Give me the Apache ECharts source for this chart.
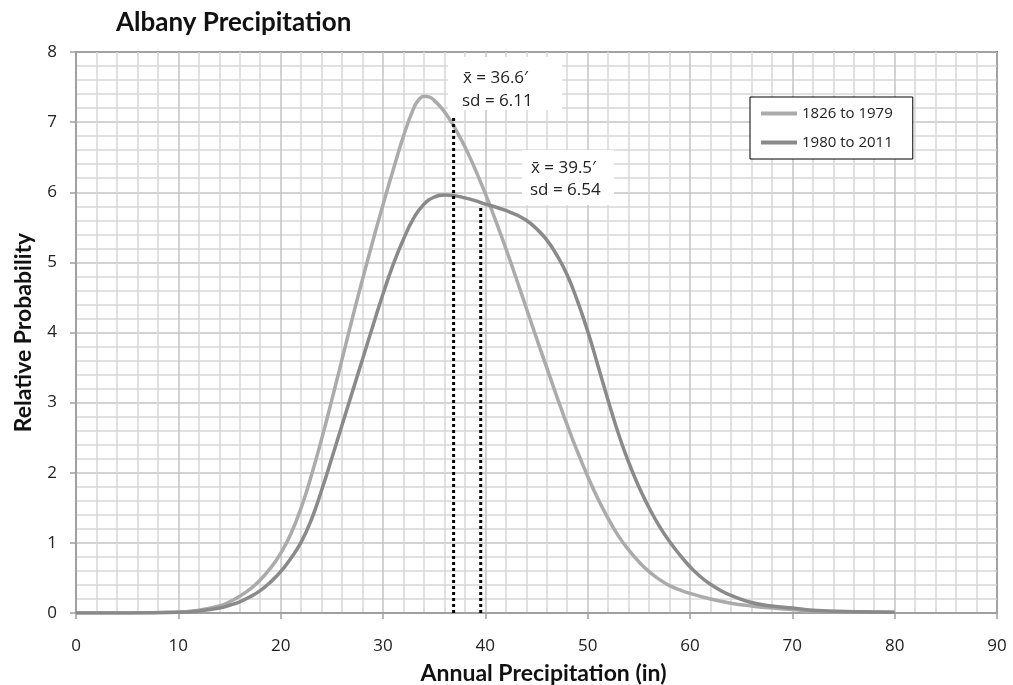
<!DOCTYPE html>
<html>
<head>
<meta charset="utf-8">
<script src="https://cdn.jsdelivr.net/npm/echarts@6/dist/echarts.min.js"></script>
<style>html,body{margin:0;padding:0;background:#fff;}#c{width:1013px;height:685px;}</style>
</head>
<body>
<div id="c"></div>
<script>
// ---- data ----
const seriesNames = ['1826 to 1979', '1980 to 2011'];
const xOld = [0, 5, 10, 12, 14, 15, 16, 17, 18, 19, 20, 21, 22, 23, 24, 25, 26, 27, 28, 29, 30, 31, 32, 33, 33.5, 34, 34.5, 35, 36, 37, 38, 39, 40, 41, 42, 43, 44, 45, 46, 47, 48, 49, 50, 51, 52, 53, 54, 55, 56, 57, 58, 59, 60, 62, 64, 66, 68, 70, 72, 75, 80];
const yOld = [0, 0, 0.01, 0.04, 0.10, 0.16, 0.24, 0.34, 0.47, 0.64, 0.85, 1.13, 1.5, 1.96, 2.48, 3.04, 3.62, 4.2, 4.76, 5.3, 5.82, 6.32, 6.8, 7.2, 7.32, 7.37, 7.36, 7.31, 7.15, 6.92, 6.65, 6.33, 5.98, 5.6, 5.2, 4.78, 4.35, 3.92, 3.5, 3.08, 2.68, 2.3, 1.95, 1.63, 1.35, 1.1, 0.9, 0.73, 0.59, 0.48, 0.39, 0.33, 0.28, 0.2, 0.14, 0.1, 0.07, 0.05, 0.03, 0.02, 0.01];
const xNew = [0, 5, 10, 12, 14, 15, 16, 17, 18, 19, 20, 21, 22, 23, 24, 25, 26, 27, 28, 29, 30, 31, 32, 33, 34, 35, 36, 37, 38, 39, 40, 41, 42, 43, 44, 45, 46, 47, 48, 49, 50, 51, 52, 53, 54, 55, 56, 57, 58, 59, 60, 61, 62, 63, 64, 66, 68, 70, 72, 75, 80];
const yNew = [0, 0, 0.01, 0.03, 0.07, 0.11, 0.16, 0.23, 0.32, 0.44, 0.59, 0.78, 1.01, 1.33, 1.75, 2.21, 2.68, 3.15, 3.62, 4.09, 4.55, 4.97, 5.33, 5.63, 5.83, 5.93, 5.96, 5.95, 5.92, 5.88, 5.83, 5.79, 5.74, 5.68, 5.6, 5.48, 5.32, 5.1, 4.82, 4.45, 4.02, 3.53, 3.03, 2.56, 2.15, 1.8, 1.5, 1.24, 1.02, 0.83, 0.66, 0.52, 0.41, 0.32, 0.25, 0.15, 0.1, 0.07, 0.04, 0.02, 0.01];
const meanX = [36.9, 39.55];
const meanTop = [7.06, 5.8];
const meanLabels = ['x\u0304 = 36.6\u2032', 'x\u0304 = 39.5\u2032'];
const sdLabels = ['sd = 6.11', 'sd = 6.54'];
const xTitle = 'Annual Precipitation (in)';
const yTitle = 'Relative Probability';
const chartTitle = 'Albany Precipitation';

const zip = (xs, ys) => xs.map((x, i) => [x, ys[i]]);
const FONT = '"Open Sans", sans-serif';
const BOLD = 'Lato, sans-serif';

const chart = echarts.init(document.getElementById('c'), null, {renderer: 'canvas'});
const dotted = meanX.map((x, i) => ({
  type: 'line', silent: true, showSymbol: false, z: 5,
  data: [[x, 0], [x, meanTop[i]]],
  lineStyle: {color: '#000', width: 3, type: [3, 3]}
}));

chart.setOption({
  animation: false,
  backgroundColor: '#fff',
  title: {text: chartTitle, left: 111, top: 5,
    textStyle: {fontFamily: BOLD, fontWeight: 'bold', fontSize: 26, color: '#111'}},
  grid: {left: 76, right: 16, top: 52, bottom: 72, show: true, containLabel: false,
    outerBoundsMode: 'none',
    borderColor: '#000', borderWidth: 1.5, backgroundColor: 'transparent'},
  legend: {data: seriesNames, orient: 'vertical', left: 750, top: 97,
    padding: [9, 20, 9, 11], itemGap: 14, itemWidth: 36, itemHeight: 4, icon: 'rect',
    backgroundColor: '#fff', borderColor: '#000', borderWidth: 1, borderRadius: 0,
    textStyle: {fontFamily: FONT, fontSize: 15, color: '#222'}},
  xAxis: {type: 'value', min: 0, max: 90, interval: 10,
    name: xTitle, nameLocation: 'middle', nameGap: 49,
    nameTextStyle: {fontFamily: BOLD, fontWeight: 'bold', fontSize: 23, color: '#111', padding: [0, 0, 0, 14]},
    axisLine: {show: true, onZero: false, lineStyle: {color: '#a0a0a0', width: 2}},
    axisTick: {show: true, length: 6, lineStyle: {color: '#a0a0a0', width: 1.5}},
    axisLabel: {margin: 25, fontFamily: FONT, fontSize: 17, color: '#222'},
    splitLine: {show: true, lineStyle: {color: '#c4c4c4', width: 1.5}},
    minorTick: {show: false, splitNumber: 5},
    minorSplitLine: {show: true, lineStyle: {color: '#d8d8d8', width: 1.5}}},
  yAxis: {type: 'value', min: 0, max: 8, interval: 1,
    name: yTitle, nameLocation: 'middle', nameGap: 41, nameRotate: 90,
    nameTextStyle: {fontFamily: BOLD, fontWeight: 'bold', fontSize: 23, color: '#111'},
    axisLine: {show: true, lineStyle: {color: '#a0a0a0', width: 2}},
    axisTick: {show: true, length: 6, lineStyle: {color: '#a0a0a0', width: 1.5}},
    axisLabel: {margin: 19, fontFamily: FONT, fontSize: 17, color: '#222'},
    splitLine: {show: true, lineStyle: {color: '#c4c4c4', width: 1.5}},
    minorTick: {show: false, splitNumber: 5},
    minorSplitLine: {show: true, lineStyle: {color: '#d8d8d8', width: 1.5}}},
  series: [
    {name: seriesNames[0], type: 'line', data: zip(xOld, yOld), smooth: 0.5, showSymbol: false, z: 3,
      lineStyle: {color: '#ababab', width: 3.5}, itemStyle: {color: '#ababab'}},
    {name: seriesNames[1], type: 'line', data: zip(xNew, yNew), smooth: 0.5, showSymbol: false, z: 3,
      lineStyle: {color: '#8a8a8a', width: 3.5}, itemStyle: {color: '#8a8a8a'}},
    ...dotted
  ]
});

// annotation boxes
const boxes = [
  {x: 448, y: 57, w: 114, h: 53, tx: 463, ty1: 78, ty2: 101},
  {x: 522, y: 150, w: 92, h: 55, tx: 531, ty1: 168, ty2: 190}
];
const g = [];
boxes.forEach((b, i) => {
  g.push({type: 'rect', shape: {x: b.x, y: b.y, width: b.w, height: b.h}, style: {fill: '#fff'}, z: 10});
  g.push({type: 'text', x: b.tx, y: b.ty1, style: {text: meanLabels[i], font: '17px ' + FONT, fill: '#222', textVerticalAlign: 'middle'}, z: 11});
  g.push({type: 'text', x: b.tx - 1, y: b.ty2, style: {text: sdLabels[i], font: '17px ' + FONT, fill: '#222', textVerticalAlign: 'middle'}, z: 11});
});
chart.setOption({graphic: g});
</script>
</body>
</html>
